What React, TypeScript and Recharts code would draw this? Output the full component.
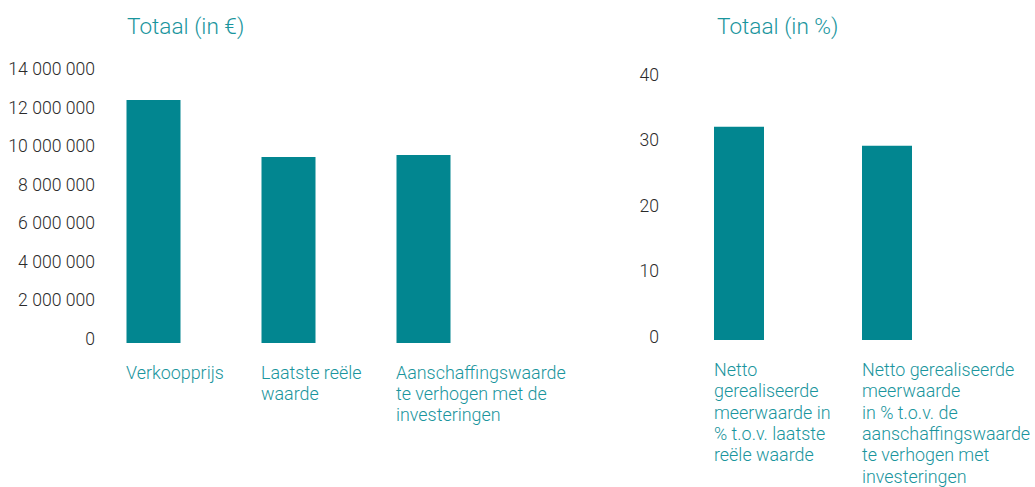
import React from "react";
import { BarChart, Bar, XAxis, YAxis } from "recharts";

const euroCategories = ["Verkoopprijs", "Laatste reële waarde", "Aanschaffingswaarde te verhogen met de investeringen"];
const euroLabelLines = [
  ["Verkoopprijs"],
  ["Laatste reële", "waarde"],
  ["Aanschaffingswaarde", "te verhogen met de", "investeringen"],
];
const euroValues = [12600000, 9640000, 9750000];
const euroTicks = [0, 2000000, 4000000, 6000000, 8000000, 10000000, 12000000, 14000000];

const pctCategories = ["Netto gerealiseerde meerwaarde in % t.o.v. laatste reële waarde", "Netto gerealiseerde meerwaarde in % t.o.v. de aanschaffingswaarde te verhogen met investeringen"];
const pctLabelLines = [
  ["Netto", "gerealiseerde", "meerwaarde in", "% t.o.v. laatste", "reële waarde"],
  ["Netto gerealiseerde", "meerwaarde", "in % t.o.v. de", "aanschaffingswaarde", "te verhogen met", "investeringen"],
];
const pctValues = [32.6, 29.7];
const pctTicks = [0, 10, 20, 30, 40];

const euroData = euroCategories.map((c, i) => ({ name: c, value: euroValues[i], lines: euroLabelLines[i] }));
const pctData = pctCategories.map((c, i) => ({ name: c, value: pctValues[i], lines: pctLabelLines[i] }));

const TEAL = "#028690";
const TEXT_TEAL = "#1a959d";
const FONT = "Roboto, 'Helvetica Neue', Arial, sans-serif";

const fmtSpace = (v: number) => String(v).replace(/\B(?=(\d{3})+(?!\d))/g, " ");

function makeYTick(dxOff: number, dyOff: number) {
  return (props: any) => {
    const { x, y, payload } = props;
    return (
      <text
        x={x + dxOff}
        y={y + dyOff}
        textAnchor="end"
        dominantBaseline="central"
        fontFamily={FONT}
        fontWeight={300}
        fontSize={17.6}
        fill="#2b2b2b"
      >
        {fmtSpace(payload.value)}
      </text>
    );
  };
}

function makeXTick(lineSets: string[][], halfBar: number, lineHeight: number) {
  return (props: any) => {
    const { x, y, payload, index } = props;
    const lines = lineSets[index] || [payload.value];
    return (
      <text x={x - halfBar} y={y} textAnchor="start" fontFamily={FONT} fontWeight={300} fontSize={17.9} fill={TEXT_TEAL}>
        {lines.map((l, i) => (
          <tspan key={i} x={x - halfBar} dy={i === 0 ? 36 : lineHeight}>
            {l}
          </tspan>
        ))}
      </text>
    );
  };
}

const titleStyle: React.CSSProperties = {
  position: "absolute",
  fontFamily: FONT,
  fontWeight: 300,
  fontSize: 22.6,
  color: TEXT_TEAL,
  lineHeight: "26px",
  whiteSpace: "nowrap",
};

export default function App() {
  return (
    <div style={{ position: "absolute", left: 0, top: 0, width: 1035, height: 487, background: "#fff", overflow: "hidden" }}>
      <div style={{ ...titleStyle, left: 127, top: 14 }}>Totaal (in €)</div>
      <div style={{ ...titleStyle, left: 717, top: 14 }}>Totaal (in %)</div>

      <div style={{ position: "absolute", left: 0, top: 0 }}>
        <BarChart
          width={600}
          height={487}
          data={euroData}
          margin={{ top: 73, right: 109.5, bottom: 0, left: 0 }}
          barCategoryGap={0}
        >
          <XAxis
            dataKey="name"
            axisLine={false}
            tickLine={false}
            tickSize={0}
            tickMargin={0}
            height={144}
            interval={0}
            tick={makeXTick(euroLabelLines, 27, 20.8)}
          />
          <YAxis
            domain={[0, 14000000]}
            ticks={euroTicks}
            axisLine={false}
            tickLine={false}
            tickSize={0}
            tickMargin={0}
            width={85.5}
            interval={0}
            tick={makeYTick(9.5, -4)}
          />
          <Bar dataKey="value" fill={TEAL} barSize={54} isAnimationActive={false} />
        </BarChart>
      </div>

      <div style={{ position: "absolute", left: 600, top: 0 }}>
        <BarChart
          width={435}
          height={487}
          data={pctData}
          margin={{ top: 78.3, right: 74, bottom: 0, left: 0 }}
          barCategoryGap={0}
        >
          <XAxis
            dataKey="name"
            axisLine={false}
            tickLine={false}
            tickSize={0}
            tickMargin={0}
            height={147}
            interval={0}
            tick={makeXTick(pctLabelLines, 25, 21.3)}
          />
          <YAxis
            domain={[0, 40]}
            ticks={pctTicks}
            axisLine={false}
            tickLine={false}
            tickSize={0}
            tickMargin={0}
            width={65}
            interval={0}
            tick={makeYTick(-6, -3.3)}
          />
          <Bar dataKey="value" fill={TEAL} barSize={50} isAnimationActive={false} />
        </BarChart>
      </div>
    </div>
  );
}
